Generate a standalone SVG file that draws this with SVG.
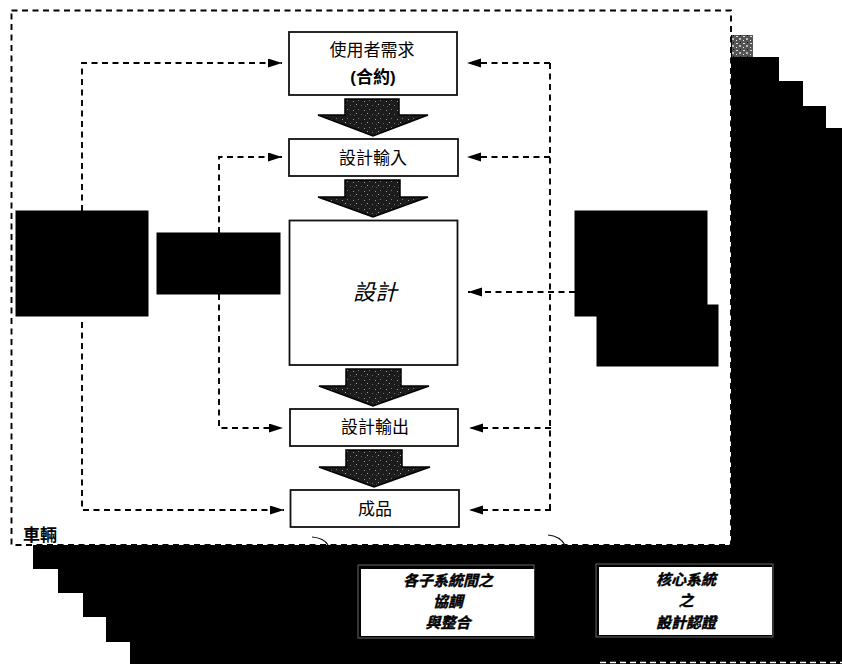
<svg xmlns="http://www.w3.org/2000/svg" width="842" height="664" viewBox="0 0 842 664">
<style>
text{font-family:"Liberation Sans","Noto Sans CJK TC",sans-serif;fill:#000;text-anchor:middle}
.box{fill:#fff;stroke:#111;stroke-width:1.800}
.blk{fill:#000;stroke:#000;stroke-width:1}
.dash{fill:none;stroke:#000;stroke-width:1.900;stroke-dasharray:6 4.500}
.t{font-size:17px}
.call{fill:#fff;stroke:none}
.edge{fill:none;stroke:#666;stroke-width:1}
.ct{font-size:15px;font-weight:bold;font-style:italic;fill:#000;stroke:#000;stroke-width:.4}
.fat{fill:url(#speck);stroke:#000;stroke-width:1.500}
</style>
<defs>
<pattern id="speck" width="11" height="9" patternUnits="userSpaceOnUse">
<rect width="11" height="9" fill="#1c1c1c"/>
<rect x="1" y="2" width="1" height="1" fill="#999"/>
<rect x="6" y="1" width="1" height="1" fill="#777"/>
<rect x="4" y="5" width="1" height="1" fill="#aaa"/>
<rect x="9" y="6" width="1" height="1" fill="#666"/>
<rect x="2" y="7" width="1" height="1" fill="#555"/>
</pattern>
<pattern id="noise" width="7" height="7" patternUnits="userSpaceOnUse">
<rect width="7" height="7" fill="#555"/>
<rect x="1" y="1" width="2" height="1" fill="#ddd"/>
<rect x="4" y="3" width="2" height="2" fill="#bbb"/>
<rect x="1" y="5" width="1" height="1" fill="#eee"/>
<rect x="5" y="0" width="1" height="1" fill="#111"/>
</pattern>
<marker id="ah" markerWidth="15" markerHeight="10" refX="14" refY="4.500" orient="auto" markerUnits="userSpaceOnUse"><path d="M0 0L14 4.500L0 9Z" fill="#000"/></marker>
</defs>
<rect width="842" height="664" fill="#fff"/>
<g id="backdrop">
<path d="M731 35H753V57H779V81H803V106H826V128H842V664H130V642H106V617H83V593H58V569H33V545H731Z" fill="#000"/>
<rect x="732" y="35" width="21" height="22" fill="url(#noise)"/>
<path d="M600 662.500H842" stroke="#fff" stroke-width="1.500" stroke-dasharray="6 4" fill="none"/>
</g>
<g id="connectors">
<rect class="dash" x="11.500" y="10.500" width="719.500" height="534.500"/>
<path class="dash" d="M82 211V63H282" marker-end="url(#ah)"/>
<path class="dash" d="M82 322V510H284" marker-end="url(#ah)"/>
<path class="dash" d="M219 233V157H282" marker-end="url(#ah)"/>
<path class="dash" d="M219 294V428H283" marker-end="url(#ah)"/>
<path class="dash" d="M550 63H467" marker-end="url(#ah)"/>
<path class="dash" d="M550 157H467" marker-end="url(#ah)"/>
<path class="dash" d="M575 292H468" marker-end="url(#ah)"/>
<path class="dash" d="M551 428H469" marker-end="url(#ah)"/>
<path class="dash" d="M551 510H469" marker-end="url(#ah)"/>
<path class="dash" d="M550 63V510"/>
<path d="M312 537Q324 538 328 545M548 535Q560 536 565 545" fill="none" stroke="#111" stroke-width="1.200"/>
</g>
<g id="flow-arrows">
<path class="fat" d="M345 99H399V115H428L373 136L318 115H345Z"/>
<path class="fat" d="M345 180H400V197H428L373 217L318 197H345Z"/>
<path class="fat" d="M346 369H401V386H429L373 406L319 386H346Z"/>
<path class="fat" d="M346 450H402V467H430L374 487L319 467H346Z"/>
</g>
<g id="need"><rect class="box" x="289" y="32" width="168" height="63"/><text class="t" x="372" y="56">使用者需求</text><text class="t" x="373" y="83" font-weight="bold">(合約)</text></g>
<g id="input"><rect class="box" x="289" y="139" width="169" height="37"/><text class="t" x="373" y="164">設計輸入</text></g>
<g id="design"><rect class="box" x="289.500" y="220.500" width="168" height="144.500"/><text x="375" y="300" font-size="22" font-style="italic">設計</text></g>
<g id="output"><rect class="box" x="290" y="409" width="168" height="37"/><text class="t" x="375" y="433">設計輸出</text></g>
<g id="product"><rect class="box" x="290.500" y="490" width="168.500" height="37"/><text class="t" x="375" y="515">成品</text></g>
<g id="vehicle-label"><text x="40" y="541" font-size="17" font-weight="bold">車輛</text></g>
<g id="left-black"><rect class="blk" x="16" y="211" width="132" height="105"/></g>
<g id="mid-black"><rect class="blk" x="157" y="233" width="123" height="61"/></g>
<g id="right-black-a"><rect class="blk" x="575" y="211" width="132" height="105"/></g>
<g id="right-black-b"><rect class="blk" x="597" y="305" width="121" height="61"/></g>
<g id="integration"><rect class="edge" x="358" y="565" width="176" height="73"/><rect class="call" x="361" y="569" width="173" height="67"/><text class="ct" x="448" y="586">各子系統間之</text><text class="ct" x="448" y="607">協調</text><text class="ct" x="448" y="628">與整合</text></g>
<g id="certification"><rect class="edge" x="596" y="564" width="177" height="73"/><rect class="call" x="599" y="567" width="173" height="68"/><text class="ct" x="686" y="585">核心系統</text><text class="ct" x="686" y="606">之</text><text class="ct" x="686" y="628">設計認證</text></g>
</svg>
